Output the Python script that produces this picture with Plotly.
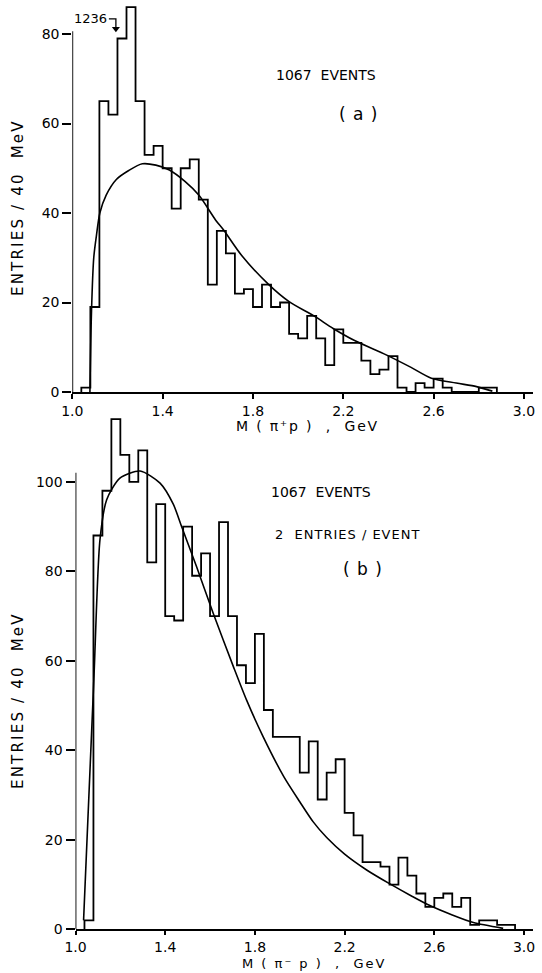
import plotly.graph_objects as go

# ---- data -------------------------------------------------------------
BIN_WIDTH = 0.04  # GeV (40 MeV bins)

# (a) M(pi+ p): first bin starts at 1.04 GeV
top_first_edge = 1.04
top_counts = [1, 19, 65, 62, 79, 86, 65, 53, 55, 50, 41, 50, 52, 43,
              24, 36, 31, 22, 23, 19, 24, 19, 20, 13, 12, 17, 12, 6,
              14, 11, 11, 7, 4, 5, 8, 1, 0, 2, 1, 3, 1, 0, 0, 0, 1, 1]

# phase-space curve for (a)
top_fit_m = [1.078, 1.085, 1.095, 1.107, 1.122, 1.15, 1.195, 1.25, 1.31,
             1.37, 1.43, 1.50, 1.56, 1.635, 1.67, 1.75, 1.87, 1.96, 2.07,
             2.155, 2.25, 2.39, 2.50, 2.59, 2.70, 2.79, 2.86]
top_fit_n = [0, 18, 30, 35, 40, 44, 47.5, 49.5, 51, 50.7, 49.6, 47, 44,
             38.4, 36.2, 30.5, 24, 20.2, 17, 14.2, 11.5, 8.3, 5.5, 3.1,
             2.0, 1.2, 0.2]

# (b) M(pi- p): first bin starts at 1.04 GeV
bot_first_edge = 1.04
bot_counts = [2, 88, 98, 114, 106, 100, 107, 82, 95, 70, 69, 90, 79, 84,
              70, 91, 70, 59, 55, 66, 49, 43, 43, 43, 35, 42, 29, 35, 38,
              26, 21, 15, 15, 14, 10, 16, 12, 8, 5, 7, 8, 5, 7, 1, 2, 2,
              1, 1]

# phase-space curve for (b)
bot_fit_m = [1.036, 1.082, 1.109, 1.139, 1.198, 1.288, 1.377, 1.436, 1.473,
             1.54, 1.614, 1.704, 1.763, 1.837, 1.93, 2.0, 2.06, 2.12, 2.2,
             2.3, 2.40, 2.5, 2.58, 2.68, 2.774, 2.907]
bot_fit_n = [2, 56, 87, 96, 100.8, 102.4, 99.7, 95, 90, 81, 70.6, 58.7,
             51.2, 43, 34, 28.5, 24, 20.5, 16.8, 13.2, 10.2, 7.4, 5.3, 3.2,
             1.5, 0.2]

x_ticks = [1.0, 1.4, 1.8, 2.2, 2.6, 3.0]
x_ticktext = ["1.0", "1.4", "1.8", "2.2", "2.6", "3.0"]
top_yticks = [0, 20, 40, 60, 80]
bot_yticks = [0, 20, 40, 60, 80, 100]

# Delta(1236) marker: hooked arrow path in (a)
delta_hook_m = [1.162, 1.193, 1.193]
delta_hook_n = [83.4, 83.4, 81.2]

# ---- helpers ----------------------------------------------------------
W, H = 542, 973
FONT = "DejaVu Sans"


def step_xy(first_edge, width, counts):
    edges = [round(first_edge + width * i, 4) for i in range(len(counts) + 1)]
    xs = [edges[0]] + edges[:-1] + [edges[-1]]
    ys = [0] + list(counts) + [0]
    return xs, ys


def px(x):
    return x / W


def py(y):
    return 1 - y / H


def spaced(text, ls):
    if ls:
        return f'<span style="letter-spacing:{ls}px">{text}</span>'
    return text


fig = go.Figure()

hx, hy = step_xy(top_first_edge, BIN_WIDTH, top_counts)
fig.add_trace(go.Scatter(x=hx, y=hy, mode="lines", line_shape="hv",
                         line=dict(color="black", width=1.8),
                         xaxis="x", yaxis="y", hoverinfo="skip"))
fig.add_trace(go.Scatter(x=top_fit_m, y=top_fit_n, mode="lines",
                         line_shape="spline",
                         line=dict(color="black", width=1.6, smoothing=0.8),
                         xaxis="x", yaxis="y", hoverinfo="skip"))

hx, hy = step_xy(bot_first_edge, BIN_WIDTH, bot_counts)
fig.add_trace(go.Scatter(x=hx, y=hy, mode="lines", line_shape="hv",
                         line=dict(color="black", width=1.8),
                         xaxis="x2", yaxis="y2", hoverinfo="skip"))
fig.add_trace(go.Scatter(x=bot_fit_m, y=bot_fit_n, mode="lines",
                         line_shape="spline",
                         line=dict(color="black", width=1.6, smoothing=0.7),
                         xaxis="x2", yaxis="y2", hoverinfo="skip"))

# hook line with a downward arrowhead at its end
fig.add_trace(go.Scatter(x=delta_hook_m, y=delta_hook_n, mode="lines",
                         line=dict(color="black", width=1.3),
                         xaxis="x", yaxis="y", hoverinfo="skip"))
fig.add_trace(go.Scatter(x=delta_hook_m[-1:], y=delta_hook_n[-1:],
                         mode="markers",
                         marker=dict(symbol="triangle-down", size=7,
                                     color="black", line=dict(width=0)),
                         xaxis="x", yaxis="y", hoverinfo="skip"))

axis_common = dict(showgrid=False, zeroline=False, ticks="outside",
                   tickcolor="black", tickwidth=1.5, automargin=False,
                   tickfont=dict(family=FONT, size=14, color="black"))

fig.update_layout(
    width=W, height=H,
    margin=dict(l=0, r=0, t=0, b=0, autoexpand=False),
    paper_bgcolor="white", plot_bgcolor="white",
    showlegend=False,
    font=dict(family=FONT, color="black"),
    xaxis=dict(domain=[px(72.3), px(533)], range=[1.0, 3.04],
               tickvals=x_ticks, ticktext=x_ticktext, ticklen=5,
               showline=True, linecolor="black", linewidth=1.8,
               anchor="y", **axis_common),
    yaxis=dict(domain=[py(392), py(2.7)], range=[0, 87],
               tickvals=top_yticks, ticklen=9, showline=False,
               anchor="x", **axis_common),
    xaxis2=dict(domain=[px(75.5), px(533)], range=[1.0, 3.04],
                tickvals=x_ticks, ticktext=x_ticktext, ticklen=4,
                showline=True, linecolor="black", linewidth=1.8,
                anchor="y2", **axis_common),
    yaxis2=dict(domain=[py(929.3), py(405.7)], range=[0, 117],
                tickvals=bot_yticks, ticklen=9, showline=False,
                anchor="x2", **axis_common),
)

# vertical axis lines, stopping just above the top labelled tick
fig.add_shape(type="line", xref="x", yref="y", x0=1.0, x1=1.0, y0=0, y1=80.6,
              line=dict(color="black", width=1.8))
fig.add_shape(type="line", xref="x2", yref="y2", x0=1.0, x1=1.0, y0=0, y1=102,
              line=dict(color="black", width=1.8))

fig.add_annotation(xref="x", yref="y", x=1.161, y=83.4, xanchor="right",
                   yanchor="middle", text="1236", showarrow=False,
                   font=dict(family=FONT, size=13, color="black"))

# free text: (label, centre x px, centre y px, font size, letter spacing)
texts = [
    ("1067  EVENTS", 326, 75, 14, 0),
    ("( a )", 359, 114, 17, 1.0),
    ("1067  EVENTS", 321, 492, 14, 0),
    ("2  ENTRIES / EVENT", 347, 534, 13, 1.0),
    ("( b )", 363, 569, 17, 1.0),
    ("M ( π⁺p )  ,  GeV", 307, 426, 14, 1.8),
    ("M ( π⁻ p )  ,  GeV", 314, 963, 13, 2.0),
]
for t, x, y, s, ls in texts:
    fig.add_annotation(xref="paper", yref="paper", x=px(x), y=py(y),
                       xanchor="center", yanchor="middle",
                       text=spaced(t, ls), showarrow=False,
                       font=dict(family=FONT, size=s, color="black"))

for y in (208, 701):
    fig.add_annotation(xref="paper", yref="paper", x=px(18), y=py(y),
                       xanchor="center", yanchor="middle",
                       text=spaced("ENTRIES / 40  MeV", 2.2), textangle=-90,
                       showarrow=False,
                       font=dict(family=FONT, size=15, color="black"))

fig.write_html("out.html")
